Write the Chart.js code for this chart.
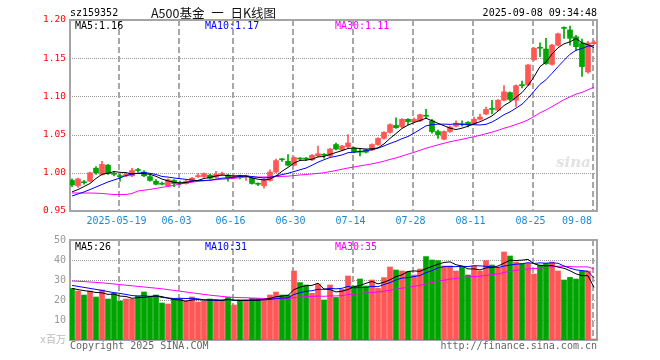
<!DOCTYPE html>
<html><head><meta charset="utf-8">
<script src="https://cdn.jsdelivr.net/npm/chart.js@4.4.0/dist/chart.umd.min.js"></script>
<style>
html,body{margin:0;padding:0;background:#fff;}
#wrap{position:relative;width:660px;height:360px;overflow:hidden;font-family:"DejaVu Sans Mono",monospace;}
canvas{position:absolute;left:0;top:0;}
.t{position:absolute;white-space:pre;font-size:10px;line-height:12px;font-family:"DejaVu Sans Mono",monospace;}
</style></head><body>
<div id="wrap">
<canvas id="k" width="660" height="360"></canvas>
<canvas id="v" width="660" height="360"></canvas>
<div class="t" style="left:70px;top:7px;color:#000;">sz159352</div>
<div class="t" style="left:151px;top:5px;font-family:'Noto Sans CJK SC',sans-serif;font-size:12.5px;line-height:15px;word-spacing:4px;color:#111;">A500基金 一 日K线图</div>
<div class="t" style="right:63px;top:7px;color:#000;">2025-09-08 09:34:48</div>
<div class="t" style="left:75px;top:20px;color:#000;">MA5:1.16</div>
<div class="t" style="left:205px;top:20px;color:#0000ff;">MA10:1.17</div>
<div class="t" style="left:335px;top:20px;color:#ff00ff;">MA30:1.11</div>
<div class="t" style="left:75px;top:241px;color:#000;">MA5:26</div>
<div class="t" style="left:205px;top:241px;color:#0000ff;">MA10:31</div>
<div class="t" style="left:335px;top:241px;color:#ff00ff;">MA30:35</div>
<div class="t" style="left:70px;top:340px;color:#666;">Copyright 2025 SINA.COM</div>
<div class="t" style="right:63px;top:340px;color:#666;">http://finance.sina.com.cn</div>
<div class="t" style="left:556px;top:154px;font-family:'DejaVu Serif',serif;font-style:italic;font-weight:bold;font-size:15px;line-height:16px;color:#e2e2e2;">sina</div>
</div>
<script>
// ---- data ----
const tickIdx = [8, 18, 27, 37, 47, 57, 67, 77, 87];
const tickLabels = ['2025-05-19','06-03','06-16','06-30','07-14','07-28','08-11','08-25','09-08'];
const priceTicks = [0.95, 1.00, 1.05, 1.10, 1.15, 1.20];
const volTicks = [0, 10, 20, 30, 40, 50];

const opens = [0.990,0.983,0.988,0.989,1.006,0.998,1.010,0.999,0.996,0.996,
0.996,1.004,1.001,0.995,0.989,0.986,0.983,0.990,0.987,0.986,
0.989,0.995,0.995,0.997,0.994,0.998,0.997,0.994,0.996,0.995,
0.993,0.986,0.983,0.990,1.001,1.018,1.015,1.010,1.019,1.019,
1.017,1.022,1.024,1.022,1.037,1.030,1.034,1.032,1.028,1.030,
1.030,1.037,1.045,1.053,1.062,1.060,1.070,1.067,1.068,1.075,
1.068,1.054,1.044,1.054,1.061,1.064,1.066,1.064,1.070,1.077,
1.084,1.082,1.095,1.105,1.095,1.115,1.115,1.148,1.164,1.162,
1.142,1.167,1.190,1.187,1.178,1.170,1.132,1.169];
const highs = [0.992,0.993,0.990,1.001,1.008,1.015,1.011,1.002,0.998,0.999,
1.006,1.006,1.003,0.997,0.991,0.988,0.992,0.991,0.989,0.990,
0.994,0.999,1.000,0.998,1.002,1.001,0.998,0.997,0.997,0.997,
0.994,0.987,0.992,1.004,1.018,1.019,1.024,1.021,1.020,1.020,
1.024,1.035,1.025,1.032,1.039,1.036,1.050,1.033,1.031,1.031,
1.038,1.046,1.054,1.064,1.072,1.071,1.071,1.072,1.077,1.083,
1.070,1.056,1.055,1.061,1.068,1.068,1.067,1.073,1.077,1.086,
1.095,1.096,1.114,1.106,1.115,1.120,1.142,1.164,1.170,1.176,
1.168,1.183,1.191,1.192,1.180,1.175,1.172,1.173];
const lows = [0.982,0.981,0.985,0.988,0.998,0.997,0.998,0.996,0.989,0.995,
0.995,1.001,0.995,0.989,0.984,0.984,0.982,0.982,0.984,0.985,
0.988,0.994,0.994,0.992,0.993,0.997,0.989,0.993,0.992,0.990,
0.985,0.983,0.980,0.989,1.000,1.015,1.009,1.009,1.016,1.016,
1.016,1.021,1.019,1.021,1.030,1.029,1.033,1.026,1.022,1.026,
1.029,1.036,1.044,1.052,1.058,1.059,1.063,1.066,1.067,1.071,
1.052,1.045,1.043,1.053,1.060,1.061,1.060,1.063,1.069,1.076,
1.077,1.081,1.094,1.094,1.087,1.111,1.114,1.147,1.152,1.142,
1.141,1.166,1.176,1.167,1.160,1.126,1.130,1.168];
const closes = [0.984,0.992,0.987,1.000,1.000,1.011,0.999,0.998,0.995,0.998,
1.003,1.003,0.996,0.990,0.985,0.985,0.991,0.986,0.986,0.989,
0.993,0.996,0.999,0.993,0.998,0.999,0.993,0.996,0.995,0.996,
0.986,0.985,0.991,1.001,1.016,1.017,1.010,1.020,1.018,1.018,
1.023,1.025,1.023,1.031,1.031,1.035,1.039,1.027,1.027,1.027,
1.037,1.045,1.053,1.063,1.059,1.070,1.067,1.070,1.076,1.074,
1.054,1.050,1.054,1.060,1.065,1.063,1.063,1.070,1.073,1.083,
1.083,1.095,1.106,1.096,1.114,1.114,1.141,1.163,1.163,1.143,
1.167,1.182,1.189,1.176,1.165,1.139,1.170,1.171];
const ma5 = [0.975,0.978,0.982,0.986,0.9926,0.998,0.9994,1.0016,1.0006,1.0002,
0.9986,0.9994,0.999,0.998,0.9954,0.9918,0.9894,0.9874,0.9866,0.9874,
0.989,0.990,0.9926,0.994,0.9958,0.997,0.9964,0.9958,0.9962,0.9958,
0.9932,0.9916,0.9906,0.9918,0.9958,1.002,1.007,1.0128,1.0162,1.0166,
1.0178,1.0208,1.0214,1.024,1.0266,1.029,1.0318,1.0326,1.0318,1.031,
1.0314,1.0326,1.0378,1.045,1.0514,1.058,1.0624,1.0658,1.0684,1.0714,
1.0682,1.0648,1.0616,1.0584,1.0566,1.0584,1.061,1.0642,1.0668,1.0704,
1.0744,1.0808,1.088,1.0926,1.0988,1.105,1.1142,1.1256,1.139,1.1448,
1.1554,1.1636,1.1688,1.1714,1.1758,1.1702,1.1676,1.164];
const ma10 = [0.9696,0.9723,0.9749,0.9781,0.9814,0.9847,0.988,0.9906,0.9932,0.9964,
0.9983,0.9994,1.0003,0.9993,0.9978,0.9952,0.9944,0.9932,0.9923,0.9914,
0.9904,0.9897,0.990,0.9903,0.9916,0.993,0.9932,0.9942,0.9951,0.9958,
0.9951,0.994,0.9932,0.994,0.9958,0.9976,0.9993,1.0017,1.004,1.0062,
1.0099,1.0139,1.0171,1.0201,1.0216,1.0234,1.0263,1.027,1.0279,1.0288,
1.0302,1.0322,1.0352,1.0384,1.0412,1.0447,1.0475,1.0518,1.0567,1.0614,
1.0631,1.0636,1.0637,1.0634,1.064,1.0633,1.0629,1.0629,1.0626,1.0635,
1.0664,1.0709,1.0761,1.0797,1.0846,1.0897,1.0975,1.1068,1.1158,1.1218,
1.1302,1.1389,1.1472,1.1552,1.1603,1.1628,1.1658,1.1666];
const ma30 = [0.9736,0.9736,0.9735,0.9735,0.9733,0.9730,0.9722,0.9716,0.9715,0.9716,
0.9729,0.9762,0.9772,0.9783,0.9796,0.9810,0.9822,0.9836,0.9852,0.9866,
0.9878,0.9888,0.9896,0.9903,0.9910,0.9916,0.9922,0.9928,0.9936,0.9945,
0.9946,0.9944,0.9945,0.9945,0.9951,0.9953,0.9956,0.9964,0.9971,0.9978,
0.9985,0.9992,1.0001,1.0015,1.0030,1.0047,1.0063,1.0076,1.0090,1.0103,
1.0117,1.0134,1.0152,1.0175,1.0195,1.0219,1.0244,1.0268,1.0295,1.0321,
1.0344,1.0366,1.0387,1.0406,1.0423,1.0438,1.0456,1.0472,1.0491,1.0512,
1.0532,1.0556,1.0583,1.0605,1.0633,1.0659,1.0693,1.0738,1.0784,1.0822,
1.0866,1.0911,1.0957,1.0994,1.1030,1.1053,1.1087,1.1121];
const volumes = [25.8,24.5,22.5,24.5,21.5,25,20.5,23.3,19.5,20.5,
20.5,22,24,21.5,22.5,18.5,18,20.5,20.5,19.5,
21.5,19,19.5,20.5,20,20,21.3,17.5,20,20,
20.8,20.8,20,22.5,24,22.5,22.5,34.5,28.7,27.5,
23.3,28,20,27.5,21.3,25.3,32,27,30.5,27,
30,25.8,31.2,36.5,35,34.5,34.2,32.5,35.5,41.7,
40,39.7,37,37,34.5,36.7,32.5,37,34.5,39.7,
37.5,36.3,44,42,39,38.3,38.3,33,37.5,38.3,
39,34.5,30,31.3,30.5,34.5,34.5,0.5];
const vma5 = [25.8,25.2,24.7,24.3,23.76,23.6,22.8,22.96,21.96,21.76,
20.86,21.16,21.3,21.7,22.1,21.7,20.9,20.2,20.0,19.4,
20.0,20.2,20.0,20.0,20.1,19.8,20.26,19.86,19.76,19.76,
19.92,19.82,20.32,20.82,21.62,21.96,22.3,25.2,26.44,27.14,
27.3,28.4,25.5,25.26,24.02,24.42,25.22,26.62,27.22,28.36,
29.3,28.06,28.9,30.1,31.7,32.6,34.28,34.54,34.34,35.68,
36.78,37.88,38.78,39.08,37.64,36.98,35.54,35.54,35.04,36.08,
36.24,37.0,38.4,39.9,39.76,39.92,40.32,38.12,37.22,37.08,
37.22,36.46,35.86,34.62,33.06,32.16,32.16,26.26];
const vma10 = [27.3,26.8,26.3,25.8,25.3,24.8,24.2,23.7,23.3,22.76,
22.23,21.98,22.13,21.83,21.93,21.28,21.03,20.75,20.85,20.75,
20.85,20.55,20.1,20.0,19.75,19.9,20.23,19.93,19.88,19.93,
19.86,20.04,20.09,20.29,20.69,20.94,21.06,22.76,23.63,24.38,
24.63,25.35,25.35,25.85,25.58,25.86,26.81,26.06,26.24,26.19,
26.86,26.64,27.76,28.66,30.03,30.95,31.17,31.72,32.22,33.69,
34.69,36.08,36.66,36.71,36.66,36.88,36.71,37.16,37.06,36.86,
36.61,36.27,36.97,37.47,37.92,38.08,38.66,38.26,38.56,38.42,
38.57,38.39,36.99,35.92,35.07,34.69,34.31,31.06];
const vma30 = [29.5,29.4,29.2,29.0,28.8,28.6,28.3,28.0,27.7,27.4,
27.1,26.8,26.5,26.2,25.9,25.6,25.2,24.8,24.4,24.0,
23.6,23.2,22.8,22.4,22.1,21.8,21.5,21.3,21.2,21.15,
20.98,20.86,20.77,20.71,20.79,20.71,20.77,21.15,21.45,21.69,
21.78,21.98,21.85,22.05,22.01,22.23,22.7,22.92,23.25,23.5,
23.78,24.01,24.4,24.93,25.43,25.92,26.35,26.85,27.36,28.09,
28.73,29.36,29.92,30.41,30.76,31.23,31.56,31.65,31.84,32.25,
32.72,33.0,33.8,34.28,34.87,35.3,35.51,35.71,35.95,36.32,
36.62,36.91,36.87,36.7,36.55,36.55,36.56,35.49];

// ---- styles ----
const UP = '#ff5656', DOWN = '#00a400';
const MONO = '"DejaVu Sans Mono", "Noto Sans CJK SC", monospace';
const colors = closes.map((c, i) => c >= opens[i] ? UP : DOWN);
const X_MIN = -1/3, X_MAX = 87.5;
const GRID_SHIFT = -0.25;

function xy(arr) { return arr.map((v, i) => ({x: i, y: v})); }
function lineDs(arr, color) {
  return {type: 'line', data: xy(arr), borderColor: color, borderWidth: 1,
    pointRadius: 0, tension: 0, fill: false, order: 0};
}

// grid lines + frame, positioned through the chart's own scales, behind the marks
function framePlugin(yTicks) {
  return {
    id: 'gridFrame',
    beforeDatasetsDraw(chart) {
      const a = chart.chartArea, ctx = chart.ctx, sx = chart.scales.x, sy = chart.scales.y;
      ctx.save();
      // vertical dashed lines at the date ticks (2px wide, dash 6 / gap 3)
      ctx.fillStyle = '#a8a8a8';
      for (const t of tickIdx) {
        const x = Math.floor(sx.getPixelForValue(t + GRID_SHIFT) - 0.5);
        for (let y = Math.round(a.top); y < a.bottom; y += 9) {
          ctx.fillRect(x, y, 2, Math.min(6, a.bottom - y));
        }
      }
      // horizontal dotted lines at the inner value ticks
      ctx.fillStyle = '#999999';
      for (const v of yTicks.slice(1, -1)) {
        const y = Math.round(sy.getPixelForValue(v));
        for (let x = Math.ceil(a.left); x < a.right; x += 2) ctx.fillRect(x, y, 1, 1);
      }
      // frame
      ctx.strokeStyle = '#a4a4a4';
      ctx.lineWidth = 2;
      ctx.strokeRect(a.left, a.top, a.right - a.left, a.bottom - a.top);
      ctx.restore();
    }
  };
}
const xLabels = {
  id: 'xLabels',
  afterDraw(chart) {
    const ctx = chart.ctx, sx = chart.scales.x, a = chart.chartArea;
    ctx.save();
    ctx.font = '10px ' + MONO;
    ctx.fillStyle = '#1a8ad6';
    ctx.textAlign = 'center';
    ctx.textBaseline = 'middle';
    tickIdx.forEach((t, k) => {
      const w = ctx.measureText(tickLabels[k]).width;
      let x = sx.getPixelForValue(t + GRID_SHIFT) - 2;
      if (x + w / 2 > a.right - 5) x = a.right - 5 - w / 2;
      ctx.fillText(tickLabels[k], x, 221);
    });
    ctx.restore();
  }
};

function xScale() {
  return {
    type: 'linear', min: X_MIN, max: X_MAX, offset: false,
    afterFit: s => { s.height = 0; },
    ticks: {display: false},
    grid: {display: false},
    border: {display: false}
  };
}

new Chart(document.getElementById('k'), {
  type: 'bar',
  data: {
    datasets: [
      lineDs(ma5, '#000000'),
      lineDs(ma10, '#0000ff'),
      lineDs(ma30, '#ff00ff'),
      {type: 'bar', data: opens.map((o, i) => ({x: i, y: [o, closes[i]]})),
        backgroundColor: colors, barThickness: 5, minBarLength: 1, grouped: false, order: 1},
      {type: 'bar', data: lows.map((l, i) => ({x: i, y: [l, highs[i]]})),
        backgroundColor: colors, barThickness: 1, grouped: false, order: 2}
    ]
  },
  options: {
    responsive: false, animation: false, devicePixelRatio: 1,
    layout: {padding: {left: 0, right: 63, top: 20, bottom: 149}},
    plugins: {legend: {display: false}, tooltip: {enabled: false}},
    scales: {
      x: xScale(),
      y: {
        type: 'linear', min: 0.95, max: 1.20,
        afterBuildTicks: s => { s.ticks = priceTicks.map(v => ({value: v})); },
        afterFit: s => { s.width = 70; },
        ticks: {color: '#ff0000', font: {family: MONO, size: 9.5}, padding: 4,
          callback: v => Number(v).toFixed(2)},
        grid: {display: false, drawTicks: false},
        border: {display: false}
      }
    }
  },
  plugins: [framePlugin(priceTicks), xLabels]
});

new Chart(document.getElementById('v'), {
  type: 'bar',
  data: {
    datasets: [
      lineDs(vma5, '#000000'),
      lineDs(vma10, '#0000ff'),
      lineDs(vma30, '#ff00ff'),
      {type: 'bar', data: volumes.map((v, i) => ({x: i, y: v})),
        backgroundColor: colors, barThickness: 5, grouped: false, order: 1}
    ]
  },
  options: {
    responsive: false, animation: false, devicePixelRatio: 1,
    layout: {padding: {left: 0, right: 63, top: 240, bottom: 20}},
    plugins: {legend: {display: false}, tooltip: {enabled: false}},
    scales: {
      x: xScale(),
      y: {
        type: 'linear', min: 0, max: 50,
        afterBuildTicks: s => { s.ticks = volTicks.map(v => ({value: v})); },
        afterFit: s => { s.width = 70; },
        ticks: {color: c => c.tick && c.tick.value === 0 ? '#bbbbbb' : '#999999',
          font: {family: MONO, size: 10}, padding: 4,
          callback: v => v === 0 ? 'x百万' : String(v)},
        grid: {display: false, drawTicks: false},
        border: {display: false}
      }
    }
  },
  plugins: [framePlugin(volTicks)]
});
</script>
</body></html>
